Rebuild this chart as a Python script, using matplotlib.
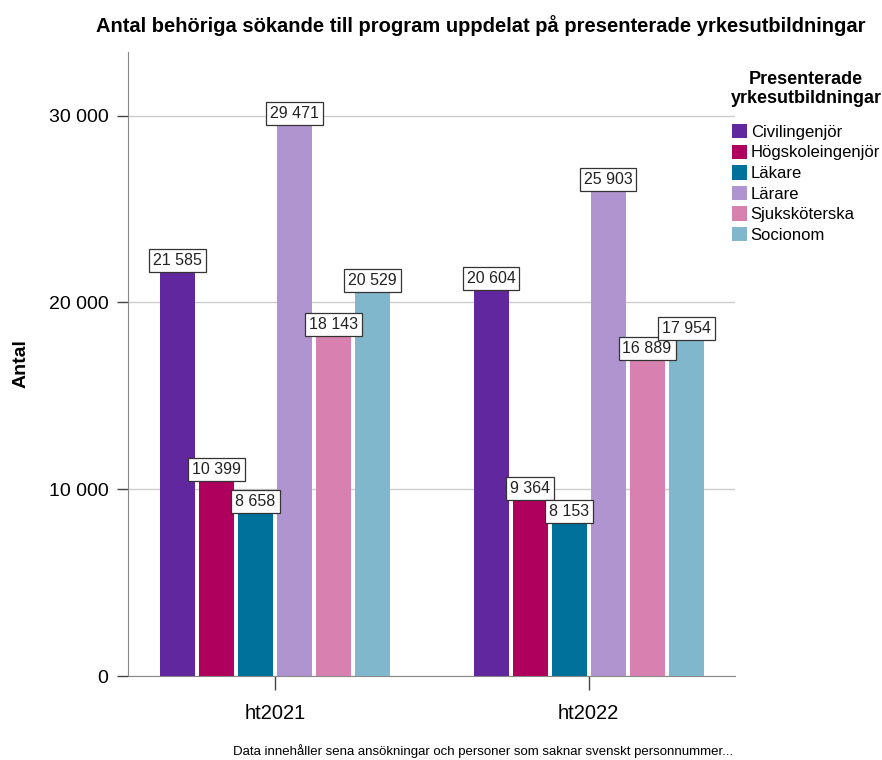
#!/usr/bin/env python3

# +
# import(s)
# -
import numpy as np
import matplotlib as mpl
mpl.use('Agg')
import matplotlib.pyplot as plt

# +
# data
# -
terms = ['ht2021', 'ht2022']
programs = ['Civilingenjör', 'Högskoleingenjör', 'Läkare', 'Lärare', 'Sjuksköterska', 'Socionom']
values = {
    'Civilingenjör': [21585, 20604],
    'Högskoleingenjör': [10399, 9364],
    'Läkare': [8658, 8153],
    'Lärare': [29471, 25903],
    'Sjuksköterska': [18143, 16889],
    'Socionom': [20529, 17954],
}
colors = ['#61279E', '#B0005E', '#00719A', '#B094D0', '#D880AF', '#80B7CC']
y_ticks = [0, 10000, 20000, 30000]


def fmt(v):
    return f"{int(v):,}".replace(',', ' ')


# +
# plot
# -
plt.rcParams['font.family'] = ['Liberation Sans', 'DejaVu Sans']
fig = plt.figure(figsize=(8.82, 7.6), dpi=100)
ax = fig.add_axes([0.1451, 0.1105, 0.6882, 0.8211])

x = np.arange(len(terms))
step = 0.1244
width = 0.1116
for i, (name, col) in enumerate(zip(programs, colors)):
    pos = x + (i - 2.5) * step
    bars = ax.bar(pos, values[name], width=width, color=col, label=name, zorder=3)
    for b, v in zip(bars, values[name]):
        ax.annotate(fmt(v), (b.get_x() + b.get_width() / 2, v), xytext=(0, 3.5),
                    textcoords='offset points', ha='center', va='bottom', fontsize=11.5,
                    color='#222222', zorder=5,
                    bbox=dict(boxstyle='square,pad=0.25', fc='white', ec='#333333', lw=0.9))

ax.set_xlim(-0.469, 1.467)
ax.set_ylim(0, 33400)
ax.set_yticks(y_ticks)
ax.set_yticklabels([fmt(v) for v in y_ticks], fontsize=14)
ax.set_xticks(x)
ax.set_xticklabels(terms, fontsize=14.5)
ax.tick_params(axis='x', length=10, width=1, color='#444444', pad=10)
ax.tick_params(axis='y', length=8, width=1, color='#444444', pad=6)
ax.yaxis.grid(True, color='#CCCCCC', lw=1, zorder=0)
for s in ['top', 'right']:
    ax.spines[s].set_visible(False)
ax.spines['left'].set_color('#888888')
ax.spines['bottom'].set_color('#888888')
ax.set_ylabel('Antal', fontsize=14, fontweight='bold', labelpad=14)

fig.text(0.545, 0.967, 'Antal behöriga sökande till program uppdelat på presenterade yrkesutbildningar',
         ha='center', va='center', fontsize=14.5, fontweight='bold')
fig.text(0.548, 0.003, 'Data innehåller sena ansökningar och personer som saknar svenskt personnummer...',
         ha='center', va='bottom', fontsize=9.5)

leg = ax.legend(loc='upper left', bbox_to_anchor=(0.993, 0.97), frameon=False,
                title='Presenterade\nyrkesutbildningar', fontsize=12,
                handlelength=0.9, handleheight=0.95, handletextpad=0.2, labelspacing=0.28,
                borderaxespad=0, borderpad=0)
leg.get_title().set_fontweight('bold')
leg.get_title().set_fontsize(13)
leg.get_title().set_multialignment('center')
leg._legend_box.align = 'center'
leg._legend_box.sep = 12

# +
# output
# -
plt.savefig('out.png', dpi=100)
